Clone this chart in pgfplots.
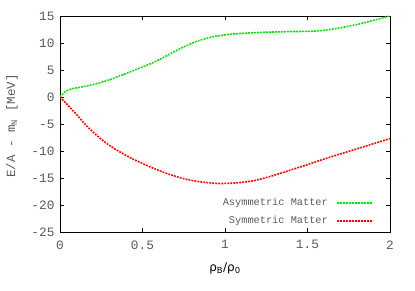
\documentclass[border=0pt]{standalone}
\usepackage{fontspec}
\setmainfont{Liberation Mono}
\newfontfamily\dejavu{DejaVu Sans}
\usepackage{pgfplots}
\pgfplotsset{compat=1.18}
\usetikzlibrary{calc}
\definecolor{tickgray}{RGB}{90,90,90}
\definecolor{gpgreen}{RGB}{0,230,0}
\definecolor{gpred}{RGB}{255,0,0}
\begin{document}
\begin{tikzpicture}
\begin{axis}[name=ax, scale only axis, width=330bp, height=216bp,
  xmin=0, xmax=2, ymin=-25, ymax=15,
  xtick={0,0.5,1,1.5,2}, ytick={-25,-20,-15,-10,-5,0,5,10,15},
  xticklabels={0,0.5,1,1.5,2},
  tick align=inside, major tick length=4bp,
  tick style={black, line width=0.6bp},
  axis line style={black, line width=0.8bp},
  /pgf/number format/assume math mode=true,
  ticklabel style={font=\fontsize{12.8bp}{14bp}\selectfont, text=tickgray},
  xticklabel style={yshift=-5bp},
  yticklabel style={xshift=-2bp},
  legend plot pos=right, legend cell align=right,
  legend image code/.code={\draw[#1] (0bp,0bp) -- (36bp,0bp);},
  legend style={draw=none, fill=none, at={(0.952,0.0926)}, anchor=east,
    font=\fontsize{10.3bp}{12bp}\selectfont, text=tickgray,
    inner sep=0pt, row sep=6bp, column sep=7bp,
    nodes={inner sep=1.5bp, text height=7.5bp, text depth=2bp}},
]
\addplot[color=gpgreen, line width=1.6bp, dash pattern=on 1.8bp off 1.2bp, smooth, tension=0.7] coordinates {
(0,0) (0.03,0.9) (0.07,1.5) (0.17,2.1) (0.27,2.9) (0.37,4.0) (0.47,5.2)
(0.58,6.6) (0.68,8.2) (0.78,9.7) (0.88,10.8) (1.0,11.5) (1.17,11.9)
(1.37,12.1) (1.58,12.3) (1.78,13.3) (1.9,14.2) (2.0,15.0)};
\addlegendentry{Asymmetric Matter}
\addplot[color=gpred, line width=1.6bp, dash pattern=on 1.8bp off 1.2bp, smooth, tension=0.7] coordinates {
(0,0) (0.09,-2.9) (0.17,-5.6) (0.27,-8.3) (0.37,-10.3) (0.47,-11.9)
(0.55,-13.0) (0.67,-14.4) (0.79,-15.4) (0.91,-15.9) (1.01,-16.0)
(1.13,-15.7) (1.24,-15.0) (1.41,-13.4) (1.62,-11.3) (1.82,-9.4) (2.0,-7.7)};
\addlegendentry{Symmetric Matter}
\end{axis}
\node[rotate=90, text=tickgray, font=\fontsize{12.5bp}{14bp}\selectfont] at ($(ax.west)+(-48bp,-2bp)$) {E/A - m\textsubscript{N} [MeV]};
\node[font=\dejavu\fontsize{12bp}{14bp}\selectfont] at ($(ax.south)+(0bp,-36bp)$) {ρ\textsubscript{B}/ρ\textsubscript{0}};
\pgfresetboundingbox
\path[use as bounding box] ($(ax.south west)+(-60bp,-59bp)$) rectangle ($(ax.north east)+(25bp,16bp)$);
\end{tikzpicture}
\end{document}
